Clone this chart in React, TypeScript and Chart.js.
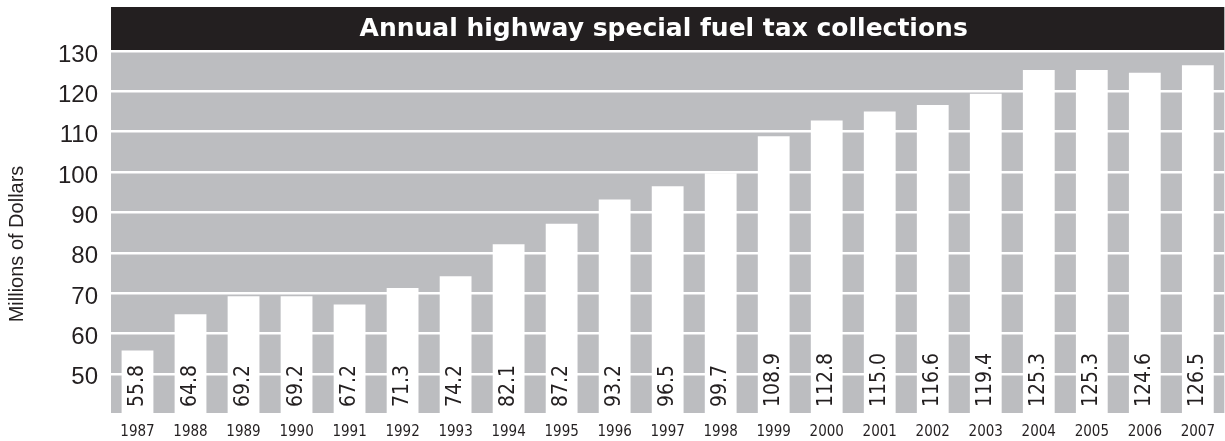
import React, { useEffect, useRef } from "react";
import { Chart, registerables } from "chart.js";

Chart.register(...registerables);

const chartTitle = "Annual highway special fuel tax collections";
const yAxisTitle = "Millions of Dollars";
const years = ["1987", "1988", "1989", "1990", "1991", "1992", "1993", "1994", "1995", "1996", "1997", "1998", "1999", "2000", "2001", "2002", "2003", "2004", "2005", "2006", "2007"];
const collections = [55.8, 64.8, 69.2, 69.2, 67.2, 71.3, 74.2, 82.1, 87.2, 93.2, 96.5, 99.7, 108.9, 112.8, 115.0, 116.6, 119.4, 125.3, 125.3, 124.6, 126.5];
const yTicks = [50, 60, 70, 80, 90, 100, 110, 120, 130];

const DARK = "#231f20";
const PANEL = "#bcbdc0";
const NARROW = "'Liberation Sans Narrow', 'DejaVu Sans Condensed', 'Liberation Sans', sans-serif";

const decorPlugin = {
  id: "decor",
  beforeDraw(chart: any) {
    const { ctx, chartArea } = chart;
    ctx.save();
    ctx.fillStyle = PANEL;
    ctx.fillRect(chartArea.left, chartArea.top, chartArea.right - chartArea.left, chartArea.bottom - chartArea.top);
    ctx.fillStyle = DARK;
    ctx.fillRect(chartArea.left, 7, chartArea.right - chartArea.left, chartArea.top - 7);
    ctx.fillStyle = "#ffffff";
    ctx.font = "bold 25px 'DejaVu Sans', sans-serif";
    ctx.textAlign = "center";
    ctx.textBaseline = "alphabetic";
    ctx.fillText(chartTitle, (chartArea.left + chartArea.right) / 2 - 4, 36);
    ctx.translate(17, 244);
    ctx.rotate(-Math.PI / 2);
    ctx.fillStyle = DARK;
    ctx.font = "20px 'Liberation Sans', Arial, sans-serif";
    ctx.textAlign = "center";
    ctx.textBaseline = "middle";
    ctx.fillText(yAxisTitle, 0, 0);
    ctx.restore();
  },
  afterDraw(chart: any) {
    const { ctx, chartArea } = chart;
    const meta = chart.getDatasetMeta(0);
    const values = chart.data.datasets[0].data as number[];
    ctx.save();
    ctx.fillStyle = DARK;
    ctx.font = "21px " + NARROW;
    ctx.textAlign = "left";
    ctx.textBaseline = "middle";
    for (let i = 0; i < meta.data.length; i++) {
      const bar: any = meta.data[i];
      const x = chart.scales.x.getPixelForValue(i);
      ctx.save();
      ctx.translate(x, chartArea.bottom - 6);
      ctx.rotate(-Math.PI / 2);
      ctx.fillText(Number(values[i]).toFixed(1), 0, 0);
      ctx.restore();
    }
    ctx.restore();
  },
};

export default function App() {
  const canvasRef = useRef<HTMLCanvasElement | null>(null);

  useEffect(() => {
    document.body.style.margin = "0";
    const canvas = canvasRef.current;
    if (!canvas) return;
    const chart = new Chart(canvas, {
      type: "bar",
      data: {
        labels: years,
        datasets: [
          {
            data: collections,
            backgroundColor: "#ffffff",
            borderWidth: 0,
            barPercentage: 0.6,
            categoryPercentage: 1,
          },
        ],
      },
      options: {
        responsive: true,
        maintainAspectRatio: false,
        animation: false,
        layout: { padding: { top: 50, left: 0, right: 0, bottom: 0 } },
        plugins: {
          legend: { display: false },
          title: { display: false },
          tooltip: { enabled: false },
        },
        scales: {
          x: {
            grid: { display: false, drawTicks: false },
            border: { display: false },
            ticks: {
              color: DARK,
              font: { family: NARROW, size: 15 },
              padding: 10,
              maxRotation: 0,
              autoSkip: false,
            },
            afterFit: (scale: any) => {
              scale.height = 28;
            },
          },
          y: {
            min: 40.3,
            max: 130.25,
            afterBuildTicks: (axis: any) => {
              axis.ticks = yTicks.map((v) => ({ value: v }));
            },
            grid: { color: "#ffffff", lineWidth: 2.5, drawTicks: false },
            border: { display: false },
            ticks: {
              color: DARK,
              font: { family: "'Liberation Sans', Arial, sans-serif", size: 24 },
              padding: 13,
              labelOffset: 4,
            },
            afterFit: (scale: any) => {
              scale.width = 111;
            },
          },
        },
      },
      plugins: [decorPlugin],
    });
    return () => chart.destroy();
  }, []);

  return (
    <div style={{ position: "relative", width: "1225px", height: "441px" }}>
      <canvas ref={canvasRef} />
    </div>
  );
}
